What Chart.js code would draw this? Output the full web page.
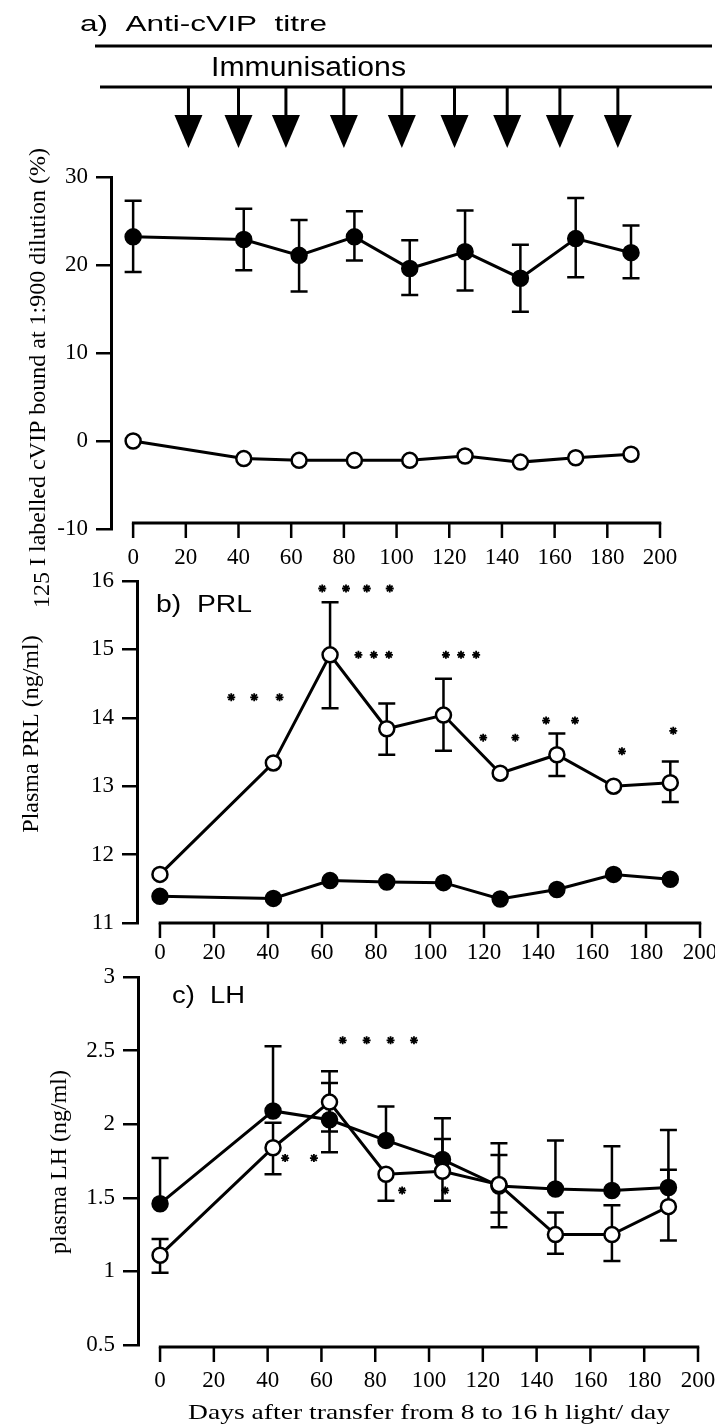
<!DOCTYPE html>
<html>
<head>
<meta charset="utf-8">
<script src="https://cdn.jsdelivr.net/npm/chart.js@4/dist/chart.umd.min.js"></script>
<style>
  body { margin: 0; background: #fff; width: 715px; height: 1426px; position: relative; overflow: hidden; }
  canvas { position: absolute; left: 0; }
</style>
</head>
<body>
<canvas id="chart-a" width="715" height="620" style="top:0px"></canvas>
<canvas id="chart-b" width="715" height="400" style="top:570px"></canvas>
<canvas id="chart-c" width="715" height="461" style="top:965px"></canvas>
<script>
// sampling days, shared by all three panels
const days = [0, 42, 63, 84, 105, 126, 147, 168, 189];
const dayTicks = [0, 20, 40, 60, 80, 100, 120, 140, 160, 180, 200];
const immunisationDays = [21, 40, 58, 80, 102, 122, 142, 162, 184];

// a) anti-cVIP titre (% bound)
const titreTicks = [-10, 0, 10, 20, 30];
const titreImmunised = [23.2, 22.9, 21.1, 23.2, 19.6, 21.5, 18.5, 23.0, 21.4];
const titreImmunisedHigh = [27.3, 26.4, 25.1, 26.1, 22.8, 26.2, 22.3, 27.6, 24.5];
const titreImmunisedLow = [19.2, 19.4, 17.0, 20.5, 16.6, 17.1, 14.7, 18.6, 18.5];
const titreControl = [0.0, -2.0, -2.2, -2.2, -2.2, -1.7, -2.4, -1.9, -1.5];

// b) plasma PRL (ng/ml)
const prlTicks = [11, 12, 13, 14, 15, 16];
const prlImmunised = [11.39, 11.36, 11.62, 11.60, 11.59, 11.35, 11.49, 11.71, 11.64];
const prlControl = [11.71, 13.34, 14.92, 13.84, 14.04, 13.19, 13.46, 13.00, 13.05];
const prlControlHigh = [null, null, 15.69, 14.21, 14.57, null, 13.77, null, 13.36];
const prlControlLow = [null, null, 14.14, 13.46, 13.52, null, 13.15, null, 12.77];
const prlStars = [
  [26.4, 14.3], [34.9, 14.3], [44.3, 14.3],
  [60.1, 15.89], [68.9, 15.89], [76.6, 15.89], [85.1, 15.89],
  [73.5, 14.92], [79.2, 14.92], [84.8, 14.92],
  [105.9, 14.92], [111.5, 14.92], [117.1, 14.92],
  [119.7, 13.71], [131.6, 13.71],
  [143.0, 13.96], [153.7, 13.96],
  [171.1, 13.51], [190.1, 13.81]
];

// c) plasma LH (ng/ml)
const lhTicks = [0.5, 1, 1.5, 2, 2.5, 3];
const lhImmunised = [1.46, 2.09, 2.03, 1.89, 1.76, 1.58, 1.56, 1.55, 1.57];
const lhImmunisedHigh = [1.77, 2.53, 2.28, 2.12, 2.04, 1.87, 1.89, 1.85, 1.96];
const lhImmunisedLow = [null, null, 1.81, null, null, 1.30, null, null, null];
const lhControl = [1.11, 1.84, 2.15, 1.66, 1.68, 1.59, 1.25, 1.25, 1.44];
const lhControlHigh = [1.22, 2.01, 2.36, null, 1.90, 1.79, 1.40, 1.45, 1.69];
const lhControlLow = [0.99, 1.66, 1.95, 1.48, 1.48, 1.40, 1.12, 1.07, 1.21];
const lhStars = [
  [67.9, 2.57], [76.8, 2.57], [85.7, 2.57], [94.4, 2.57],
  [46.5, 1.77], [57.2, 1.77],
  [90.0, 1.55], [106.0, 1.55]
];

const SERIF = 'Liberation Serif';
const SANS = 'Liberation Sans';

function series(values, filled) {
  return {
    data: days.map((d, i) => ({ x: d, y: values[i] })),
    borderColor: '#000',
    borderWidth: 3,
    pointRadius: 7.5,
    pointBorderWidth: 2.5,
    pointBackgroundColor: filled ? '#000' : '#fff',
    pointBorderColor: '#000',
    order: filled ? 2 : 1,
    clip: false
  };
}

function stars(points) {
  return {
    data: points.map(p => ({ x: p[0], y: p[1] })),
    showLine: false,
    pointStyle: 'star',
    pointRadius: 4,
    pointBorderWidth: 1.8,
    pointBorderColor: '#000',
    order: 0,
    clip: false
  };
}

// x tick marks are drawn by the xAxisLine plugin, the grid only reserves their room
function xScale(min, height, pad) {
  return {
    type: 'linear', min: min, max: 200,
    afterBuildTicks: s => { s.ticks = dayTicks.map(v => ({ value: v })); },
    afterFit: s => { s.height = height; s.paddingLeft = 0; s.paddingRight = 0; },
    border: { display: false },
    grid: { drawOnChartArea: false, tickLength: 15, lineWidth: 2.5, color: 'rgba(0,0,0,0)' },
    ticks: { font: { family: SERIF, size: 23 }, color: '#000', padding: pad, maxRotation: 0, autoSkip: false }
  };
}

function yScale(min, max, ticks, width) {
  return {
    type: 'linear', min: min, max: max,
    afterBuildTicks: s => { s.ticks = ticks.map(v => ({ value: v })); },
    afterFit: s => { s.width = width; s.paddingTop = 0; s.paddingBottom = 0; },
    border: { display: true, width: 3, color: '#000' },
    grid: { drawOnChartArea: false, tickLength: 15, lineWidth: 2.5, color: '#000' },
    ticks: { font: { family: SERIF, size: 23 }, color: '#000', padding: 8, callback: v => String(v) }
  };
}

// error bars drawn under the markers
function errorBars(bars) {
  return {
    id: 'errorBars',
    beforeDatasetsDraw(chart) {
      const { ctx, scales: { x, y } } = chart;
      ctx.save();
      ctx.strokeStyle = '#000';
      ctx.lineWidth = 2.5;
      bars.forEach(b => {
        b.mean.forEach((m, i) => {
          const px = x.getPixelForValue(days[i]);
          const pm = y.getPixelForValue(m);
          [b.high[i], b.low[i]].forEach(v => {
            if (v == null) return;
            const py = y.getPixelForValue(v);
            ctx.beginPath();
            ctx.moveTo(px, pm);
            ctx.lineTo(px, py);
            ctx.moveTo(px - 8.5, py);
            ctx.lineTo(px + 8.5, py);
            ctx.stroke();
          });
        });
      });
      ctx.restore();
    }
  };
}

// detached x axis: line from day 0 to day 200 with its tick marks, dy = offset from the chart bottom
function xAxisLine(dy) {
  return {
    id: 'xAxisLine',
    afterDraw(chart) {
      const { ctx, scales: { x }, chartArea } = chart;
      const ly = chartArea.bottom + dy;
      ctx.save();
      ctx.strokeStyle = '#000';
      ctx.lineWidth = 3;
      ctx.beginPath();
      ctx.moveTo(x.getPixelForValue(0) - 1.25, ly);
      ctx.lineTo(x.getPixelForValue(200) + 1.25, ly);
      ctx.stroke();
      ctx.lineWidth = 2.5;
      ctx.beginPath();
      dayTicks.forEach(v => {
        const px = x.getPixelForValue(v);
        ctx.moveTo(px, ly);
        ctx.lineTo(px, ly + 15);
      });
      ctx.stroke();
      ctx.restore();
    }
  };
}

function stretchText(ctx, text, x, y, font, width) {
  ctx.save();
  ctx.font = font;
  const w = ctx.measureText(text).width;
  ctx.translate(x, y);
  ctx.scale(width / w, 1);
  ctx.fillStyle = '#000';
  ctx.textBaseline = 'alphabetic';
  ctx.textAlign = 'left';
  ctx.fillText(text, 0, 0);
  ctx.restore();
}

function rotatedText(ctx, text, x, yc, font) {
  ctx.save();
  ctx.font = font;
  ctx.translate(x, yc);
  ctx.rotate(-Math.PI / 2);
  ctx.fillStyle = '#000';
  ctx.textAlign = 'center';
  ctx.textBaseline = 'alphabetic';
  ctx.fillText(text, 0, 0);
  ctx.restore();
}

function baseOptions(padding, scales) {
  return {
    responsive: false,
    animation: false,
    devicePixelRatio: 1,
    events: [],
    layout: { padding: padding },
    plugins: { legend: { display: false }, tooltip: { enabled: false } },
    scales: scales
  };
}

// ---- panel a ----
const decorA = {
  id: 'decorA',
  afterDraw(chart) {
    const { ctx, scales: { x } } = chart;
    stretchText(ctx, 'a)  Anti-cVIP  titre', 80, 31, '22px ' + SANS, 247);
    ctx.save();
    ctx.strokeStyle = '#000';
    ctx.fillStyle = '#000';
    ctx.lineWidth = 3;
    ctx.beginPath();
    ctx.moveTo(95, 46); ctx.lineTo(712, 46);
    ctx.moveTo(100, 87); ctx.lineTo(712, 87);
    ctx.stroke();
    immunisationDays.forEach(d => {
      const px = x.getPixelForValue(d);
      ctx.beginPath();
      ctx.moveTo(px, 87); ctx.lineTo(px, 117);
      ctx.stroke();
      ctx.beginPath();
      ctx.moveTo(px - 14, 115); ctx.lineTo(px + 14, 115); ctx.lineTo(px, 148);
      ctx.closePath();
      ctx.fill();
    });
    ctx.restore();
    stretchText(ctx, 'Immunisations', 211, 76, '27px ' + SANS, 195);

    // y title with the isotope number
    ctx.save();
    ctx.font = '24px ' + SERIF;
    ctx.fillStyle = '#000';
    ctx.translate(45, 608);
    ctx.rotate(-Math.PI / 2);
    ctx.textBaseline = 'alphabetic';
    ctx.fillText('125', 0, 4);
    const off = ctx.measureText('125 ').width;
    ctx.fillText('I labelled cVIP bound at 1:900 dilution (%)', off, 0);
    ctx.restore();
  }
};

new Chart(document.getElementById('chart-a'), {
  type: 'line',
  data: {
    datasets: [
      series(titreImmunised, true),
      series(titreControl, false)
    ]
  },
  options: baseOptions({ left: 0, right: 55, top: 177, bottom: 46 }, {
    x: xScale(-8.4, 45, 0),
    y: yScale(-10, 30, titreTicks, 111)
  }),
  plugins: [errorBars([{ mean: titreImmunised, high: titreImmunisedHigh, low: titreImmunisedLow }]), xAxisLine(-6), decorA]
});

// ---- panel b ----
const decorB = {
  id: 'decorB',
  afterDraw(chart) {
    const { ctx } = chart;
    stretchText(ctx, 'b)  PRL', 156, 42, '23px ' + SANS, 96);
    rotatedText(ctx, 'Plasma PRL (ng/ml)', 38, 164, '24px ' + SERIF);
  }
};

new Chart(document.getElementById('chart-b'), {
  type: 'line',
  data: {
    datasets: [
      series(prlImmunised, true),
      series(prlControl, false),
      stars(prlStars)
    ]
  },
  options: baseOptions({ left: 0, right: 15, top: 11, bottom: 0 }, {
    x: xScale(-8.5, 47, 1),
    y: yScale(11, 16, prlTicks, 137)
  }),
  plugins: [errorBars([{ mean: prlControl, high: prlControlHigh, low: prlControlLow }]), xAxisLine(0), decorB]
});

// ---- panel c ----
const decorC = {
  id: 'decorC',
  afterDraw(chart) {
    const { ctx } = chart;
    stretchText(ctx, 'c)  LH', 172, 38, '23px ' + SANS, 73);
    rotatedText(ctx, 'plasma LH (ng/ml)', 66, 197, '24px ' + SERIF);
    stretchText(ctx, 'Days after transfer from 8 to 16 h light/ day', 188, 454, '22px ' + SERIF, 482);
  }
};

new Chart(document.getElementById('chart-c'), {
  type: 'line',
  data: {
    datasets: [
      series(lhImmunised, true),
      series(lhControl, false),
      stars(lhStars)
    ]
  },
  options: baseOptions({ left: 0, right: 17, top: 12, bottom: 0 }, {
    x: xScale(-8.2, 81, 7),
    y: yScale(0.5, 3, lhTicks, 138)
  }),
  plugins: [errorBars([
    { mean: lhImmunised, high: lhImmunisedHigh, low: lhImmunisedLow },
    { mean: lhControl, high: lhControlHigh, low: lhControlLow }
  ]), xAxisLine(2), decorC]
});
</script>
</body>
</html>
